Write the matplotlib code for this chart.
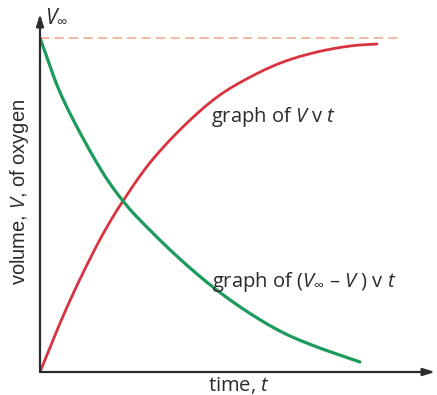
import numpy as np
import matplotlib
matplotlib.use("Agg")
import matplotlib.pyplot as plt

# Readings of the two curves (time in arbitrary units, volume as a fraction of V_inf)
t_rise = [0.0, 0.43, 0.84, 1.27, 1.65, 2.10, 2.78, 3.62, 4.48, 5.32, 6.15, 7.01, 7.85, 8.53]
v_rise = [0.0, 0.125, 0.235, 0.340, 0.425, 0.512, 0.626, 0.734, 0.823, 0.883, 0.928, 0.958, 0.976, 0.982]

t_fall = [0.0, 0.56, 1.44, 2.10, 2.78, 3.62, 4.48, 5.32, 6.15, 7.01, 8.10]
v_fall = [1.0, 0.823, 0.626, 0.512, 0.425, 0.330, 0.245, 0.175, 0.118, 0.075, 0.030]

v_inf = 1.0
label_rise = r"graph of $\mathit{V}$ v $\mathit{t}$"
label_fall = r"graph of ($\mathit{V}_{\infty}$ – $\mathit{V}$ ) v $\mathit{t}$"
x_label = r"time, $\mathit{t}$"
y_label = r"volume, $\mathit{V}$, of oxygen"

RED = "#d8333f"
GREEN = "#1c9b5c"
DASH = "#f2a585"
INK = "#2b2b2b"

plt.rcParams["mathtext.fontset"] = "custom"
plt.rcParams["mathtext.it"] = "Open Sans:italic"
plt.rcParams["mathtext.rm"] = "Open Sans"


def smooth(xs, ys, n=30):
    """Catmull-Rom curve through the given points."""
    p = np.column_stack([xs, ys]).astype(float)
    p = np.vstack([2 * p[0] - p[1], p, 2 * p[-1] - p[-2]])
    out = []
    for i in range(1, len(p) - 2):
        p0, p1, p2, p3 = p[i - 1], p[i], p[i + 1], p[i + 2]
        s = np.linspace(0, 1, n, endpoint=False)[:, None]
        out.append(0.5 * ((2 * p1) + (-p0 + p2) * s
                          + (2 * p0 - 5 * p1 + 4 * p2 - p3) * s ** 2
                          + (-p0 + 3 * p1 - 3 * p2 + p3) * s ** 3))
    out.append(p[-2][None, :])
    c = np.vstack(out)
    return c[:, 0], c[:, 1]


fig = plt.figure(figsize=(4.37, 3.95), dpi=100)
W, H = 437, 395
x0, y0 = 40, 372
ax = fig.add_axes([x0 / W, (H - y0) / H, (W - x0) / W, (y0 - 8) / H])
xmax = (W - x0) / 39.5
ymax = (y0 - 8) / 334
ax.set_xlim(0, xmax)
ax.set_ylim(0, ymax)
ax.axis("off")

# V_inf asymptote
ax.plot([0, (400 - x0) / 39.5], [v_inf, v_inf], color=DASH, lw=1.1,
        dashes=(6, 3.5), zorder=1)

xs, ys = smooth(t_rise, v_rise)
ax.plot(xs, ys, color=RED, lw=2.0, solid_capstyle="round", zorder=3)
xs, ys = smooth(t_fall, v_fall)
ax.plot(xs, ys, color=GREEN, lw=2.3, solid_capstyle="round", zorder=3)

# Axes with arrow heads
arrow = dict(arrowstyle="-|>,head_length=0.7,head_width=0.22", color=INK,
             lw=1.6, shrinkA=0, shrinkB=0)
ax.annotate("", xy=((435 - x0) / 39.5, 0), xytext=(0, 0), arrowprops=arrow,
            annotation_clip=False, zorder=4)
ax.annotate("", xy=(0, (y0 - 14) / 334), xytext=(0, 0), arrowprops=arrow,
            annotation_clip=False, zorder=4)

ax.text(0.12, 1.035, r"$\mathit{V}_{\infty}$", fontsize=15, color=INK,
        ha="left", va="bottom", family="Open Sans")

ax.text((211 - x0) / 39.5, (y0 - 117) / 334, label_rise, fontsize=14.5,
        color=INK, ha="left", va="center", family="Open Sans")
ax.text((212 - x0) / 39.5, (y0 - 282) / 334, label_fall, fontsize=14.5,
        color=INK, ha="left", va="center", family="Open Sans")

fig.text(239 / W, (H - 385) / H, x_label, fontsize=14.5, color=INK,
         ha="center", va="center", family="Open Sans")
fig.text(20 / W, (H - 192) / H, y_label, fontsize=14.5, color=INK,
         ha="center", va="center", rotation=90, family="Liberation Sans")

fig.savefig("out.png", dpi=100, facecolor="white")
